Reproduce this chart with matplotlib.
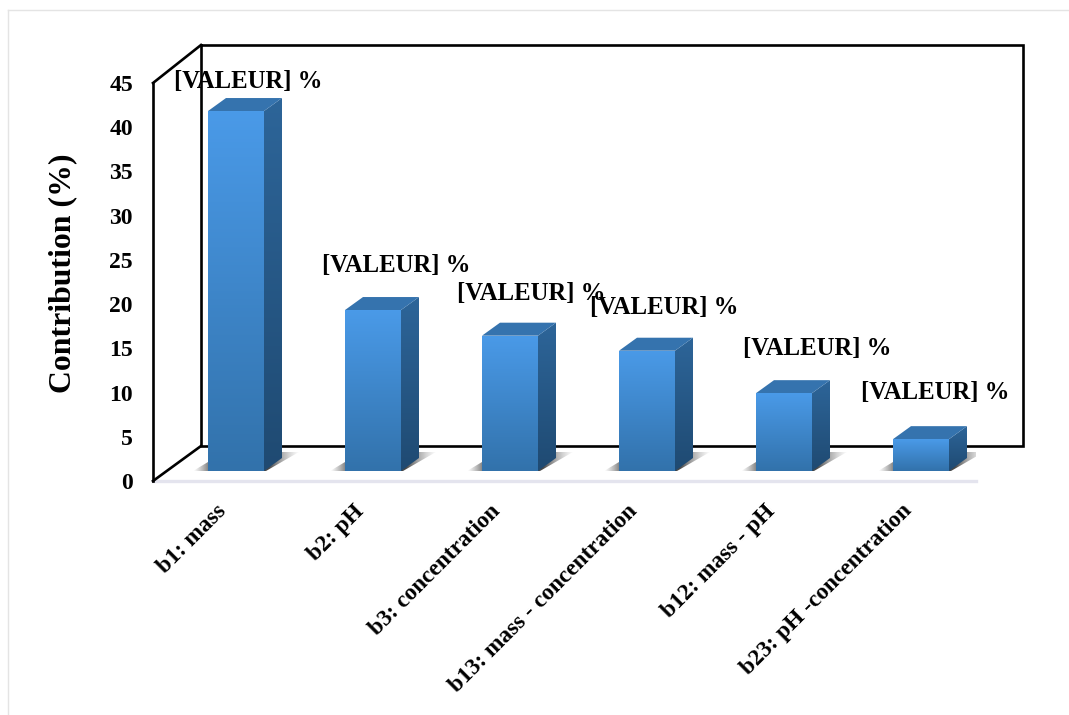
import numpy as np
import matplotlib
matplotlib.use("Agg")
import matplotlib.pyplot as plt
from matplotlib.colors import LinearSegmentedColormap
from matplotlib.patches import Polygon
from matplotlib.lines import Line2D
from matplotlib.transforms import ScaledTranslation

categories = ["b1: mass", "b2: pH", "b3: concentration", "b13: mass - concentration",
              "b12: mass - pH", "b23: pH -concentration"]
values = [40.7, 18.2, 15.3, 13.6, 8.8, 3.6]
yticks = [0, 5, 10, 15, 20, 25, 30, 35, 40, 45]
value_label = "[VALEUR] %"
label_shift_px = [(12, 31), (23, 46), (21, 44), (17, 45), (33, 46), (14, 48)]

W, H = 1069, 715
plt.rcParams["font.family"] = ["Liberation Serif", "DejaVu Serif"]
plt.rcParams["font.weight"] = "bold"
fig = plt.figure(figsize=(W / 100, H / 100), dpi=100)
L, R, T, B = 153, 976, 83, 481
ax = fig.add_axes([L / W, 1 - B / H, (R - L) / W, (B - T) / H])
ax.set_ylim(0, 45)
c0, step = 236, 137
ax.set_xlim((L - c0) / step, (R - c0) / step)
ax.patch.set_alpha(0)
for s in ax.spines.values():
    s.set_visible(False)
ax.grid(False)

xu = 1 / step
yu = 45 / (B - T)
bar_w = 56 * xu
base_px = 10
dep_x, dep_y = 18, 13
base = base_px * yu


def grad(top, bottom):
    return LinearSegmentedColormap.from_list("g", [top, bottom])


def fill(poly, cmap, extent_bounds, z):
    x0, x1, y0, y1 = extent_bounds
    im = ax.imshow(np.linspace(0, 1, 128)[:, None], extent=(x0, x1, y0, y1), cmap=cmap,
                   aspect="auto", origin="upper", zorder=z, interpolation="bilinear")
    patch = Polygon(poly, closed=True, transform=ax.transData, facecolor="none", edgecolor="none")
    ax.add_patch(patch)
    im.set_clip_path(patch)


def pline(xs, ys, **kw):
    xs = np.array(xs) / W
    ys = 1 - np.array(ys) / H
    fig.add_artist(Line2D(xs, ys, transform=fig.transFigure, **kw))


# outer picture border
pline([8, W], [10, 10], color="#e4e4e4", lw=1, zorder=-2)
pline([8, 8], [10, H], color="#e4e4e4", lw=1, zorder=-2)

# plot box: floor, back wall, side wall (behind the axes so bars cover them)
pline([L, R], [B, B], color="#e4e4ee", lw=2.4, zorder=-2)
frame = dict(color="black", lw=1.9, zorder=-1, solid_joinstyle="miter")
pline([201, 1023, 1023, 201, 201], [45, 45, 446, 446, 45], **frame)
pline([153, 201], [83, 45], **frame)
pline([153, 201], [481, 446], **frame)
pline([153, 153], [83, 481], **frame)

shadow_cm = LinearSegmentedColormap.from_list(
    "s", [(0, (0.5, 0.5, 0.5, 0.0)), (0.16, (0.35, 0.35, 0.35, 0.9)),
          (0.72, (0.28, 0.28, 0.28, 1.0)), (1, (0.6, 0.6, 0.6, 0.05))])

for i, v in enumerate(values):
    xl, xr = i - bar_w / 2, i + bar_w / 2
    top = base + v
    dx, dy = dep_x * xu, dep_y * yu
    # floor shadow
    sh = Polygon([(xl - 15 * xu, base), (xr + 2 * xu, base), (xr + 35 * xu, base + 19 * yu),
                  (xr, base + 19 * yu), (xl, base + 9 * yu)],
                 closed=True, facecolor="none", edgecolor="none", zorder=2, transform=ax.transData)
    im = ax.imshow(np.linspace(0, 1, 64)[None, :],
                   extent=(xl - 15 * xu, xr + 35 * xu, base, base + 19 * yu),
                   cmap=shadow_cm, aspect="auto", zorder=2, interpolation="bilinear")
    ax.add_patch(sh)
    im.set_clip_path(sh)
    # side face
    fill([(xr, base), (xr + dx, base + dy), (xr + dx, top + dy), (xr, top)],
         grad("#2d6599", "#1f4a72"), (xr, xr + dx, base, top + dy), 3)
    # top face
    ax.add_patch(Polygon([(xl, top), (xr, top), (xr + dx, top + dy), (xl + dx, top + dy)],
                         closed=True, facecolor="#3573ae", edgecolor="none", zorder=3))
    # front face
    fill([(xl, base), (xr, base), (xr, top), (xl, top)],
         grad("#4a9ae8", "#3272ab"), (xl, xr, base, top), 4)
    sx_px, sy_px = label_shift_px[i]
    ax.annotate(value_label, xy=(i, top), xytext=(sx_px * 0.72, sy_px * 0.72 - 1),
                textcoords="offset points", ha="center", va="center",
                fontsize=17.8, fontweight="bold", color="black", zorder=6, annotation_clip=False)

ax.set_xlim((L - c0) / step, (R - c0) / step)
ax.set_ylim(0, 45)
ax.set_yticks(yticks)
ax.set_yticklabels([str(t) for t in yticks], fontsize=17, fontweight="bold")
ax.tick_params(axis="y", length=0, pad=14.4)
ax.set_xticks(range(len(categories)))
ax.set_xticklabels(categories, rotation=45, ha="right", rotation_mode="anchor",
                   fontsize=16.8, fontweight="bold")
ax.tick_params(axis="x", length=0, pad=14)
shift = ScaledTranslation(-20 / 100, 0, fig.dpi_scale_trans)
for lab in ax.get_xticklabels():
    lab.set_transform(lab.get_transform() + shift)
ax.set_ylabel("Contribution (%)", fontsize=22.9, fontweight="bold")
ax.yaxis.set_label_coords((77 - L) / (R - L), (B - 273) / (B - T))

fig.savefig("out.png", dpi=100, facecolor="white")
